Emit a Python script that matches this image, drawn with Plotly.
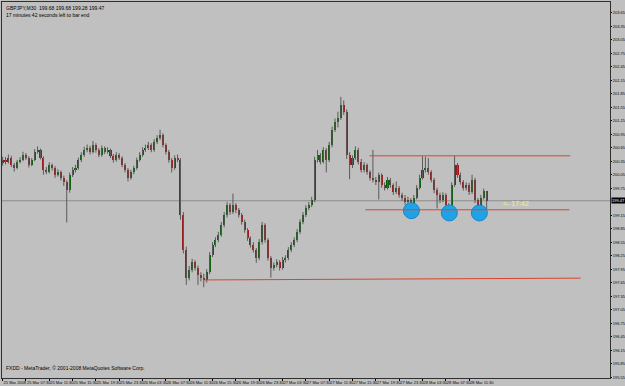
import plotly.graph_objects as go

# ---- data (GBPJPY M30) ----
opens = [200.30,200.38,200.34,200.43,200.27,200.20,200.34,200.38,200.49,200.43,
         200.27,200.38,200.56,200.60,200.43,200.16,200.11,200.27,200.20,200.05,
         200.11,199.98,199.89,199.71,200.05,200.16,200.20,200.38,200.49,200.60,
         200.65,200.56,200.71,200.60,200.49,200.65,200.56,200.60,200.47,200.38,
         200.49,200.43,200.27,200.16,199.98,200.11,200.20,200.38,200.49,200.60,
         200.65,200.71,200.60,200.78,200.87,200.94,200.71,200.56,200.38,200.20,
         200.43,200.38,199.16,198.38,197.76,197.93,198.11,197.98,197.82,197.76,
         197.71,197.89,198.27,198.49,198.60,198.71,198.93,199.16,199.38,199.22,
         199.38,199.27,199.16,199.00,198.82,198.64,198.49,198.38,198.20,198.56,
         198.93,198.60,198.20,197.98,198.04,198.11,197.98,198.16,198.20,198.38,
         198.49,198.60,198.78,199.00,199.16,199.31,199.38,199.49,200.38,200.49,
         200.34,200.60,200.38,200.71,201.05,201.23,201.32,201.60,201.45,200.49,
         200.27,200.43,200.60,200.34,200.16,200.27,200.11,199.98,199.94,199.89,
         200.05,199.82,199.76,199.94,199.82,199.67,199.76,199.60,199.54,199.45,
         199.49,199.38,199.54,199.76,199.98,200.16,200.20,200.11,199.94,199.71,
         199.60,199.49,199.60,199.38,199.31,199.82,200.27,200.05,199.89,199.76,
         199.82,199.67,199.94,199.49,199.31,199.54,199.68]
highs = [200.45,200.44,200.50,200.47,200.31,200.38,200.44,200.56,200.53,200.46,
         200.42,200.62,200.68,200.63,200.46,200.22,200.33,200.30,200.24,200.17,
         200.14,200.03,199.93,200.10,200.22,200.27,200.43,200.55,200.67,200.72,
         200.69,200.80,200.75,200.64,200.70,200.68,200.66,200.63,200.51,200.55,
         200.53,200.46,200.31,200.20,200.16,200.25,200.43,200.55,200.66,200.72,
         200.78,200.75,200.84,200.93,201.05,200.97,200.75,200.60,200.42,200.48,
         200.50,200.42,199.22,198.45,198.02,198.18,198.15,198.03,197.88,197.85,
         197.95,198.33,198.55,198.66,198.78,199.00,199.22,199.44,199.42,199.63,
         199.42,199.31,199.20,199.05,198.86,198.68,198.55,198.42,198.62,199.00,
         198.97,198.64,198.24,198.10,198.17,198.15,198.22,198.26,198.44,198.55,
         198.66,198.84,199.06,199.22,199.37,199.44,199.56,200.45,200.60,200.53,
         200.66,200.64,200.78,201.12,201.30,201.45,201.78,201.70,201.50,200.55,
         200.48,200.68,200.65,200.40,200.33,200.30,200.15,200.60,200.00,200.10,
         200.08,199.88,200.00,199.98,199.86,199.90,199.80,199.65,199.60,199.56,
         199.53,199.60,199.82,200.05,200.46,200.45,200.42,200.15,199.98,199.76,
         199.65,199.66,199.64,199.42,199.88,200.47,200.31,200.10,199.93,199.88,
         199.87,200.05,199.98,199.53,199.60,199.74,199.68]
lows = [200.25,200.28,200.30,200.22,200.12,200.17,200.30,200.35,200.38,200.21,
        200.24,200.35,200.52,200.39,200.05,200.06,200.08,200.14,199.98,200.01,
        199.92,199.80,198.99,199.65,200.00,200.10,200.16,200.33,200.45,200.55,
        200.50,200.52,200.54,200.44,200.45,200.51,200.52,200.42,200.32,200.34,
        200.38,200.22,200.10,199.90,199.94,200.06,200.16,200.34,200.45,200.56,
        200.60,200.55,200.56,200.73,200.82,200.66,200.50,200.32,200.10,200.16,
        200.33,199.05,198.30,197.60,197.70,197.88,197.92,197.60,197.68,197.55,
        197.65,197.84,198.22,198.44,198.55,198.67,198.88,199.10,199.16,199.18,
        199.20,199.10,198.94,198.76,198.58,198.43,198.32,198.09,198.15,198.50,
        198.54,198.14,197.76,197.92,197.99,197.92,197.94,198.10,198.15,198.33,
        198.44,198.55,198.73,198.95,199.11,199.26,199.33,199.44,200.32,200.28,
        200.30,200.10,200.33,200.66,201.00,201.10,201.27,201.38,200.40,199.95,
        200.20,200.38,200.28,200.10,200.10,200.05,199.92,199.88,199.82,199.50,
        199.76,199.70,199.72,199.76,199.60,199.62,199.54,199.47,199.38,199.40,
        199.27,199.33,199.50,199.72,199.94,200.10,200.05,199.88,199.64,199.30,
        199.42,199.44,199.25,199.20,199.26,199.78,199.98,199.83,199.70,199.70,
        199.60,199.62,199.42,199.22,199.26,199.50,199.28]
closes = [200.38,200.34,200.43,200.27,200.20,200.34,200.38,200.49,200.43,200.27,
          200.38,200.56,200.60,200.43,200.16,200.11,200.27,200.20,200.05,200.11,
          199.98,199.89,199.71,200.05,200.16,200.20,200.38,200.49,200.60,200.65,
          200.56,200.71,200.60,200.49,200.65,200.56,200.60,200.47,200.38,200.49,
          200.43,200.27,200.16,199.98,200.11,200.20,200.38,200.49,200.60,200.65,
          200.71,200.60,200.78,200.87,200.94,200.71,200.56,200.38,200.20,200.43,
          200.38,199.16,198.38,197.76,197.93,198.11,197.98,197.82,197.76,197.71,
          197.89,198.27,198.49,198.60,198.71,198.93,199.16,199.38,199.22,199.38,
          199.27,199.16,199.00,198.82,198.64,198.49,198.38,198.20,198.56,198.93,
          198.60,198.20,197.98,198.04,198.11,197.98,198.16,198.20,198.38,198.49,
          198.60,198.78,199.00,199.16,199.31,199.38,199.49,200.38,200.49,200.34,
          200.60,200.38,200.71,201.05,201.23,201.32,201.60,201.45,200.49,200.27,
          200.43,200.60,200.34,200.16,200.27,200.11,199.98,199.94,199.89,200.05,
          199.82,199.76,199.94,199.82,199.67,199.76,199.60,199.54,199.45,199.49,
          199.38,199.54,199.76,199.98,200.16,200.20,200.11,199.94,199.71,199.60,
          199.49,199.60,199.38,199.31,199.82,200.27,200.05,199.89,199.76,199.82,
          199.67,199.94,199.49,199.31,199.54,199.68,199.47]

time_labels = ["25 Mar 2008", "25 Mar 07:30", "25 Mar 11:30", "25 Mar 15:30", "25 Mar 19:30",
               "25 Mar 23:30", "26 Mar 03:30", "26 Mar 07:30", "26 Mar 11:30", "26 Mar 15:30",
               "26 Mar 19:30", "26 Mar 23:30", "27 Mar 03:30", "27 Mar 07:30", "27 Mar 11:30",
               "27 Mar 15:30", "27 Mar 19:30", "27 Mar 23:30", "28 Mar 03:30", "28 Mar 07:30",
               "28 Mar 11:30"]
time_label_bars = [0, 8, 16, 24, 32, 40, 48, 56, 64, 72, 80, 88, 96, 104, 112, 120, 128,
                   136, 144, 152, 160]
# 199.45 sits under the current-price box
price_ticks = [195.55, 195.85, 196.15, 196.45, 196.75, 197.05, 197.35, 197.65, 197.95,
               198.25, 198.55, 198.85, 199.15, 199.75, 200.05, 200.35, 200.65,
               200.95, 201.25, 201.55, 201.85, 202.15, 202.45, 202.75, 203.05, 203.35, 203.65]

bid = 199.47
resistance = 200.47
support = 199.27
low_line = [197.71, 197.75]
touch_bars = [140.2, 153.2, 163.5]
touch_prices = [199.25, 199.20, 199.20]

# ---- figure ----
n = len(closes)
xs = list(range(n))
bull = [c >= o for o, c in zip(opens, closes)]

fig = go.Figure()

wx, wy = [], []
for i in xs:
    wx += [i, i, None]
    wy += [lows[i], highs[i], None]
fig.add_trace(go.Scatter(x=wx, y=wy, mode="lines", line=dict(color="#5a5a5a", width=1),
                         hoverinfo="skip", showlegend=False))

body = [max(abs(c - o), 0.012) for o, c in zip(opens, closes)]
base = [min(o, c) for o, c in zip(opens, closes)]
fig.add_trace(go.Bar(x=xs, y=body, base=base, width=0.7,
                     marker=dict(color=["#0b5e0b" if b else "#9e1a1a" for b in bull],
                                 line=dict(width=0)),
                     hoverinfo="skip", showlegend=False))

fig.add_trace(go.Scatter(x=touch_bars, y=touch_prices, mode="markers",
                         marker=dict(size=16, color="#1fa3e6",
                                     line=dict(color="#1a86c8", width=1)),
                         hoverinfo="skip", showlegend=False))

fig.add_shape(type="line", xref="paper", x0=0, x1=1, yref="y", y0=bid, y1=bid,
              line=dict(color="#8c8c8c", width=1), layer="below")
fig.add_shape(type="line", x0=125.8, x1=194.7, y0=resistance, y1=resistance,
              line=dict(color="#d8452e", width=1))
fig.add_shape(type="line", x0=124.4, x1=194.4, y0=support, y1=support,
              line=dict(color="#d8452e", width=1))
fig.add_shape(type="line", x0=69.2, x1=198.2, y0=low_line[0], y1=low_line[1],
              line=dict(color="#d8452e", width=1))

FAM = "Liberation Sans Narrow, Liberation Sans, Arial"
small = dict(family=FAM, size=5, color="#000000")
tiny = dict(family=FAM, size=4, color="#000000")

fig.add_annotation(xref="paper", yref="paper", x=0.004, y=0.997, xanchor="left", yanchor="top",
                   text="GBPJPY,M30  199.68 199.68 199.28 199.47<br>17 minutes 42 seconds left to bar end",
                   showarrow=False, font=small, align="left")
fig.add_annotation(xref="paper", yref="paper", x=0.004, y=0.012, xanchor="left", yanchor="bottom",
                   text="FXDD - MetaTrader, © 2001-2008 MetaQuotes Software Corp.",
                   showarrow=False, font=small, align="left")
fig.add_annotation(x=171, y=199.40, xanchor="left", yanchor="middle", text="<- 17:42",
                   showarrow=False, font=dict(family="Liberation Sans", size=7, color="#f2f27a"))
fig.add_annotation(xref="paper", x=1.0, y=bid, xanchor="left", yanchor="middle", xshift=1,
                   text="199.47", showarrow=False, bgcolor="#000000", borderpad=0,
                   font=dict(family=FAM, size=4, color="#ffffff"))

fig.update_layout(
    width=625, height=386,
    margin=dict(l=2, r=15, t=2, b=8, autoexpand=False),
    paper_bgcolor="#c0c0c0", plot_bgcolor="#c0c0c0",
    showlegend=False, bargap=0,
    xaxis=dict(range=[-0.2, 208.3], showgrid=False, zeroline=False, automargin=False,
               tickvals=time_label_bars, ticktext=time_labels, tickangle=0,
               ticks="outside", ticklen=2, tickcolor="#000000",
               ticklabelposition="outside right",
               tickfont=dict(family=FAM, size=4, color="#000000"),
               showline=True, linecolor="#303030", linewidth=1, mirror=True),
    yaxis=dict(range=[195.53, 203.89], side="right", showgrid=False, zeroline=False,
               automargin=False,
               tickvals=price_ticks, ticktext=[f"{v:.2f}" for v in price_ticks],
               ticks="outside", ticklen=1, tickcolor="#000000", ticklabelstandoff=0,
               tickfont=tiny, showline=True, linecolor="#303030", linewidth=1, mirror=True),
)

fig.write_html("out.html")
